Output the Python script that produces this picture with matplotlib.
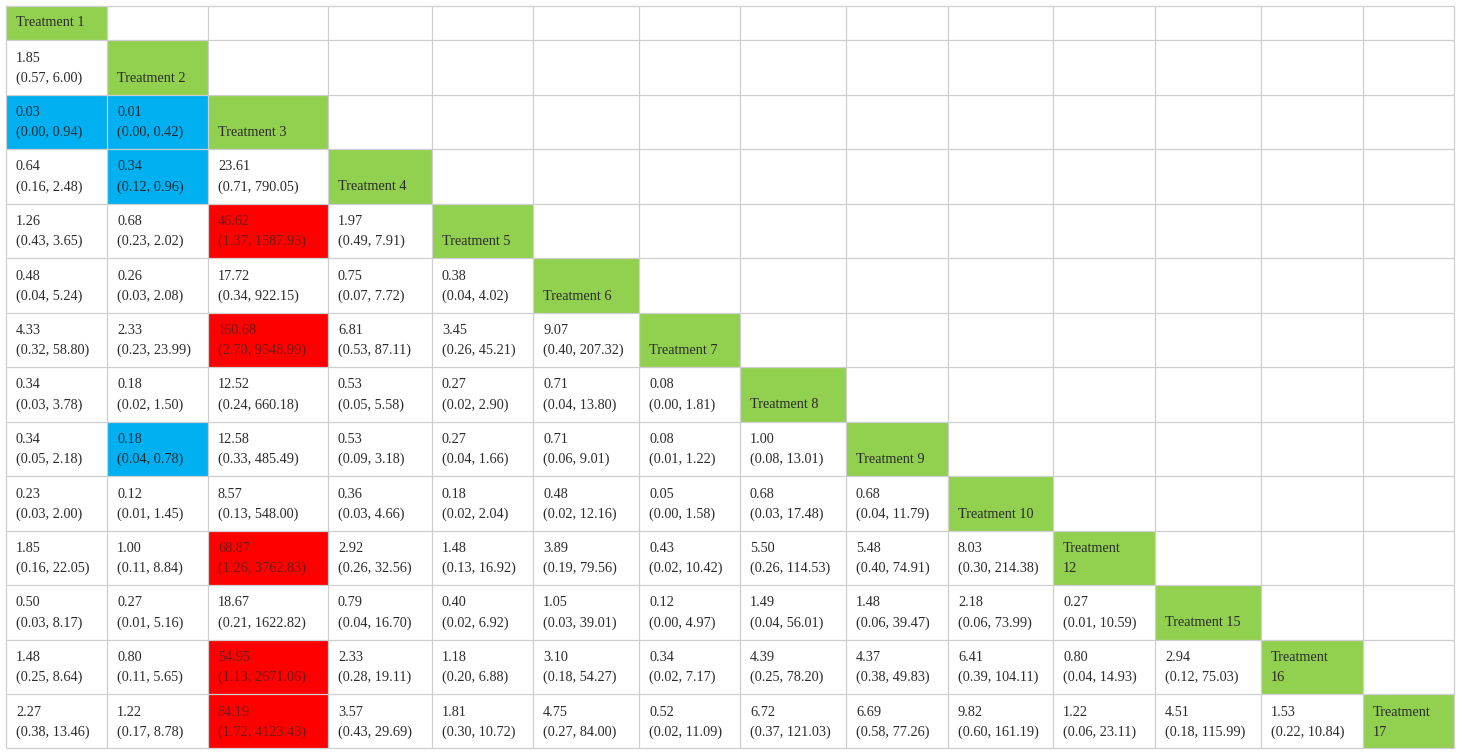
import matplotlib
matplotlib.use("Agg")
import matplotlib.pyplot as plt
from matplotlib.patches import Rectangle

# ---------------- data ----------------
treatments = ["Treatment 1", "Treatment 2", "Treatment 3", "Treatment 4", "Treatment 5",
              "Treatment 6", "Treatment 7", "Treatment 8", "Treatment 9", "Treatment 10",
              "Treatment\n12", "Treatment 15", "Treatment\n16", "Treatment\n17"]

# lower triangle: row i compares treatment i with treatments 0..i-1
estimates = [
    [],
    [1.85],
    [0.03, 0.01],
    [0.64, 0.34, 23.61],
    [1.26, 0.68, 46.62, 1.97],
    [0.48, 0.26, 17.72, 0.75, 0.38],
    [4.33, 2.33, 160.68, 6.81, 3.45, 9.07],
    [0.34, 0.18, 12.52, 0.53, 0.27, 0.71, 0.08],
    [0.34, 0.18, 12.58, 0.53, 0.27, 0.71, 0.08, 1.00],
    [0.23, 0.12, 8.57, 0.36, 0.18, 0.48, 0.05, 0.68, 0.68],
    [1.85, 1.00, 68.87, 2.92, 1.48, 3.89, 0.43, 5.50, 5.48, 8.03],
    [0.50, 0.27, 18.67, 0.79, 0.40, 1.05, 0.12, 1.49, 1.48, 2.18, 0.27],
    [1.48, 0.80, 54.95, 2.33, 1.18, 3.10, 0.34, 4.39, 4.37, 6.41, 0.80, 2.94],
    [2.27, 1.22, 84.19, 3.57, 1.81, 4.75, 0.52, 6.72, 6.69, 9.82, 1.22, 4.51, 1.53],
]
lower_ci = [
    [],
    [0.57],
    [0.00, 0.00],
    [0.16, 0.12, 0.71],
    [0.43, 0.23, 1.37, 0.49],
    [0.04, 0.03, 0.34, 0.07, 0.04],
    [0.32, 0.23, 2.70, 0.53, 0.26, 0.40],
    [0.03, 0.02, 0.24, 0.05, 0.02, 0.04, 0.00],
    [0.05, 0.04, 0.33, 0.09, 0.04, 0.06, 0.01, 0.08],
    [0.03, 0.01, 0.13, 0.03, 0.02, 0.02, 0.00, 0.03, 0.04],
    [0.16, 0.11, 1.26, 0.26, 0.13, 0.19, 0.02, 0.26, 0.40, 0.30],
    [0.03, 0.01, 0.21, 0.04, 0.02, 0.03, 0.00, 0.04, 0.06, 0.06, 0.01],
    [0.25, 0.11, 1.13, 0.28, 0.20, 0.18, 0.02, 0.25, 0.38, 0.39, 0.04, 0.12],
    [0.38, 0.17, 1.72, 0.43, 0.30, 0.27, 0.02, 0.37, 0.58, 0.60, 0.06, 0.18, 0.22],
]
upper_ci = [
    [],
    [6.00],
    [0.94, 0.42],
    [2.48, 0.96, 790.05],
    [3.65, 2.02, 1587.93, 7.91],
    [5.24, 2.08, 922.15, 7.72, 4.02],
    [58.80, 23.99, 9548.99, 87.11, 45.21, 207.32],
    [3.78, 1.50, 660.18, 5.58, 2.90, 13.80, 1.81],
    [2.18, 0.78, 485.49, 3.18, 1.66, 9.01, 1.22, 13.01],
    [2.00, 1.45, 548.00, 4.66, 2.04, 12.16, 1.58, 17.48, 11.79],
    [22.05, 8.84, 3762.83, 32.56, 16.92, 79.56, 10.42, 114.53, 74.91, 214.38],
    [8.17, 5.16, 1622.82, 16.70, 6.92, 39.01, 4.97, 56.01, 39.47, 73.99, 10.59],
    [8.64, 5.65, 2671.06, 19.11, 6.88, 54.27, 7.17, 78.20, 49.83, 104.11, 14.93, 75.03],
    [13.46, 8.78, 4123.43, 29.69, 10.72, 84.00, 11.09, 121.03, 77.26, 161.19, 23.11, 115.99, 10.84],
]

# ---------------- layout / style ----------------
W, H = 1460, 754
col_edges = [6, 107, 208, 328, 432, 533, 639, 740, 846, 948, 1053, 1155, 1261, 1363, 1454]
row_edges = [6, 40, 94.5, 149, 203.5, 258, 312.5, 367, 421.5, 476, 530.5, 585, 639.5, 694, 748]

GREEN = "#92D050"
BLUE = "#00B0F0"
RED = "#FF0000"
GRID = "#CFCFCF"
TEXT = "#2B2B2B"
RED_TEXT = "#701A1A"
BLUE_TEXT = "#1A2A33"
FONT = ["Liberation Serif", "DejaVu Serif"]
FS = 10.3
PAD = 10
LINE1 = 18   # offset from cell top to first line centre
LINE2 = 38   # offset from cell top to second line centre

fig = plt.figure(figsize=(W / 100, H / 100), dpi=100)
ax = fig.add_axes([0, 0, 1, 1])
ax.set_xlim(0, W)
ax.set_ylim(H, 0)
ax.axis("off")

n = len(treatments)
for i in range(n):
    top, bot = row_edges[i], row_edges[i + 1]
    for j in range(n):
        left, right = col_edges[j], col_edges[j + 1]
        face = "white"
        txt_color = TEXT
        if j == i:
            face = GREEN
        elif j < i:
            lo, hi = lower_ci[i][j], upper_ci[i][j]
            if hi < 1:
                face = BLUE
                txt_color = BLUE_TEXT
            elif lo > 1:
                face = RED
                txt_color = RED_TEXT
        ax.add_patch(Rectangle((left, top), right - left, bot - top,
                               facecolor=face, edgecolor="none", zorder=1))
        if j == i:
            label = treatments[i]
            if i == 0:
                ax.text(left + PAD, (top + bot) / 2, label, fontsize=FS, family=FONT,
                        color=TEXT, va="center", ha="left", zorder=3)
            else:
                lines = label.split("\n")
                if len(lines) == 1:
                    ax.text(left + PAD, top + LINE2, lines[0], fontsize=FS, family=FONT,
                            color=TEXT, va="center", ha="left", zorder=3)
                else:
                    ax.text(left + PAD, top + LINE1, lines[0], fontsize=FS, family=FONT,
                            color=TEXT, va="center", ha="left", zorder=3)
                    ax.text(left + PAD, top + LINE2, lines[1], fontsize=FS, family=FONT,
                            color=TEXT, va="center", ha="left", zorder=3)
        elif j < i:
            ax.text(left + PAD, top + LINE1, f"{estimates[i][j]:.2f}", fontsize=FS,
                    family=FONT, color=txt_color, va="center", ha="left", zorder=3)
            ax.text(left + PAD, top + LINE2,
                    f"({lower_ci[i][j]:.2f}, {upper_ci[i][j]:.2f})", fontsize=FS,
                    family=FONT, color=txt_color, va="center", ha="left", zorder=3)

# grid lines
for x in col_edges:
    ax.plot([x, x], [row_edges[0], row_edges[-1]], color=GRID, lw=0.9, zorder=2,
            solid_capstyle="butt")
for y in row_edges:
    ax.plot([col_edges[0], col_edges[-1]], [y, y], color=GRID, lw=0.9, zorder=2,
            solid_capstyle="butt")

fig.savefig("out.png", dpi=100, facecolor="white")
